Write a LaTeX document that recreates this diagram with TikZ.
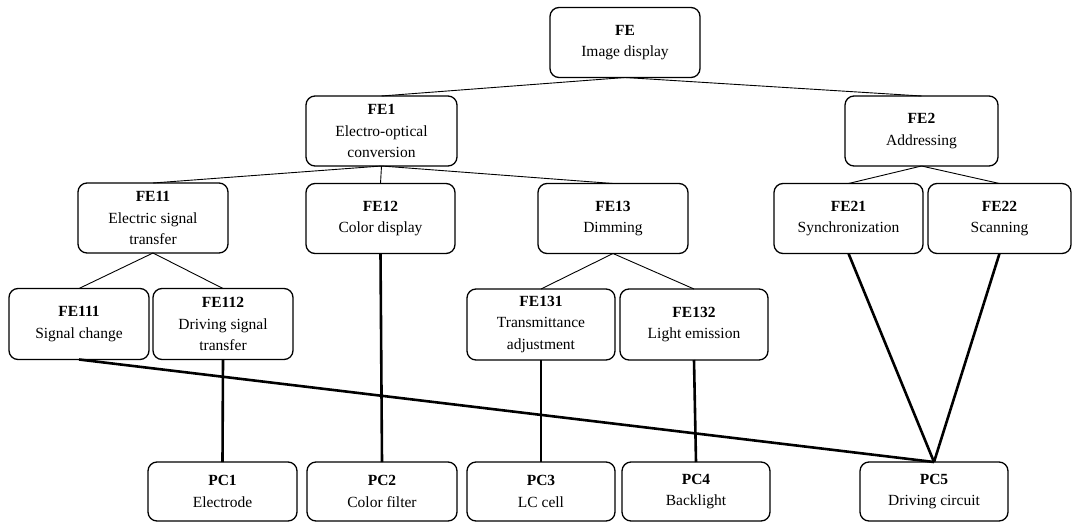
\documentclass[tikz,border=0pt]{standalone}
\usepackage{fontspec}
\setmainfont{Liberation Serif}
\newfontfamily\timesfont{Liberation Serif}
\usepackage{tikz}
\tikzstyle{box} = [draw, rounded corners=9pt, line width=1.3pt, align=center, inner sep=0pt, outer sep=0pt, minimum width=150pt, minimum height=70pt, font=\timesfont\fontsize{15.5}{21.5}\selectfont]
\tikzstyle{pcbox} = [box, minimum height=59pt]
\tikzstyle{tree} = [line width=0.9pt]
\tikzstyle{map} = [line width=2.6pt]

\begin{document}
\begin{tikzpicture}[x=1pt,y=-1pt]
        \useasboundingbox (0,0) rectangle (1073,522);
        % functional elements
        \node[box] at (625,42.5) (fe) {\textbf{FE}\\Image display};
        \node[box, minimum width=151pt] at (381.5,131) (fe1) {\textbf{FE1}\\Electro-optical\\conversion};
        \node[box, minimum width=153pt] at (921.5,131) (fe2) {\textbf{FE2}\\Addressing};
        \node[box] at (153,218) (fe11) {\textbf{FE11}\\Electric signal\\transfer};
        \node[box, minimum width=149pt] at (380.5,218.5) (fe12) {\textbf{FE12}\\Color display};
        \node[box] at (613,218.5) (fe13) {\textbf{FE13}\\Dimming};
        \node[box, minimum width=149pt] at (848.5,218.5) (fe21) {\textbf{FE21}\\Synchronization};
        \node[box, minimum width=143pt] at (999.5,218.5) (fe22) {\textbf{FE22}\\Scanning};
        \node[box, minimum width=140pt, minimum height=71pt] at (79,324) (fe111) {\textbf{FE111}\\Signal change};
        \node[box, minimum width=140pt, minimum height=71pt] at (223,324) (fe112) {\textbf{FE112}\\Driving signal\\transfer};
        \node[box, minimum width=148pt, minimum height=71pt] at (541,324.5) (fe131) {\textbf{FE131}\\Transmittance\\adjustment};
        \node[box, minimum width=148pt, minimum height=71pt] at (694,324.5) (fe132) {\textbf{FE132}\\Light emission};

        % physical components
        \node[pcbox, minimum width=149pt] at (222.5,491.5) (pc1) {\textbf{PC1}\\Electrode};
        \node[pcbox] at (382,491.5) (pc2) {\textbf{PC2}\\Color filter};
        \node[pcbox, minimum width=148pt] at (541,491.5) (pc3) {\textbf{PC3}\\LC cell};
        \node[pcbox, minimum width=148pt] at (696,491.5) (pc4) {\textbf{PC4}\\Backlight};
        \node[pcbox, minimum width=148pt] at (934,491.5) (pc5) {\textbf{PC5}\\Driving circuit};

        \draw[tree] (fe.south) -- (fe1.north);
        \draw[tree] (fe.south) -- (fe2.north);
        \draw[tree] (fe1.south) -- (fe11.north);
        \draw[tree] (fe1.south) -- (fe12.north);
        \draw[tree] (fe1.south) -- (fe13.north);
        \draw[tree] (fe2.south) -- (fe21.north);
        \draw[tree] (fe2.south) -- (fe22.north);
        \draw[tree] (fe11.south) -- (fe111.north);
        \draw[tree] (fe11.south) -- (fe112.north);
        \draw[tree] (fe13.south) -- (fe131.north);
        \draw[tree] (fe13.south) -- (fe132.north);

        \draw[map] (fe112.south) -- (pc1.north);
        \draw[map] (fe12.south) -- (pc2.north);
        \draw[map] (fe131.south) -- (pc3.north);
        \draw[map] (fe132.south) -- (pc4.north);
        \draw[map] (fe111.south) -- (pc5.north);
        \draw[map] (fe21.south) -- (pc5.north);
        \draw[map] (fe22.south) -- (pc5.north);
\end{tikzpicture}
\end{document}
